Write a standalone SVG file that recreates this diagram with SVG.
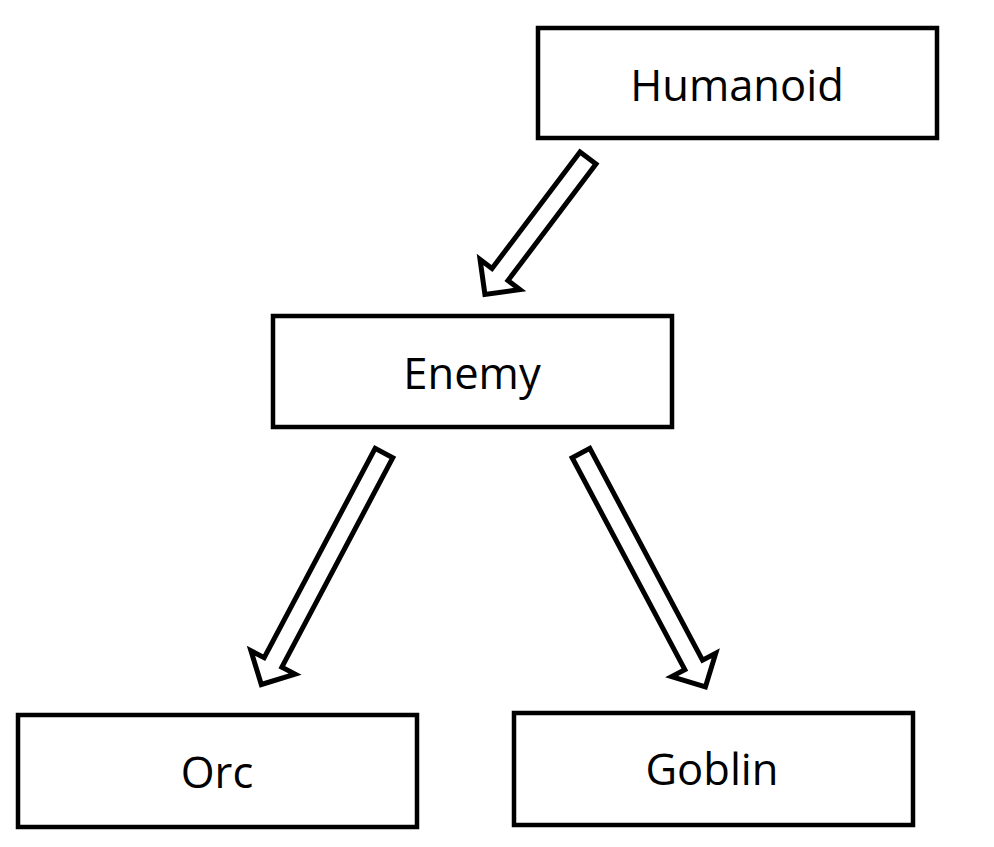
<svg xmlns="http://www.w3.org/2000/svg" width="994" height="847" viewBox="0 0 994 847">
<style>
.box{fill:#fff;stroke:#000;stroke-width:4.5}
.lbl{font-family:"Open Sans","Noto Sans",sans-serif;font-size:43.5px;fill:#000;text-anchor:middle}
.arr{fill:#fff;stroke:#000;stroke-width:5;stroke-linejoin:miter}
</style>
<rect width="994" height="847" fill="#fff"/>
<g id="connectors">
<polygon class="arr" transform="translate(588,158) rotate(127.07)" points="0,-10 146,-10 146,-25 171,0 146,25 146,10 0,10"/>
<polygon class="arr" transform="translate(384,453) rotate(117.92)" points="0,-10 237,-10 237,-25 262,0 237,25 237,10 0,10"/>
<polygon class="arr" transform="translate(581,453) rotate(62.0)" points="0,-10 240,-10 240,-25 265,0 240,25 240,10 0,10"/>
</g>
<g id="humanoid"><rect class="box" x="538" y="28" width="399" height="110"/><text class="lbl" x="737" y="101">Humanoid</text></g>
<g id="enemy"><rect class="box" x="273" y="316" width="399" height="111"/><text class="lbl" x="472" y="389">Enemy</text></g>
<g id="orc"><rect class="box" x="18" y="715" width="399" height="112"/><text class="lbl" x="217" y="788">Orc</text></g>
<g id="goblin"><rect class="box" x="514" y="713" width="399" height="112"/><text class="lbl" x="712" y="785">Goblin</text></g>
</svg>
